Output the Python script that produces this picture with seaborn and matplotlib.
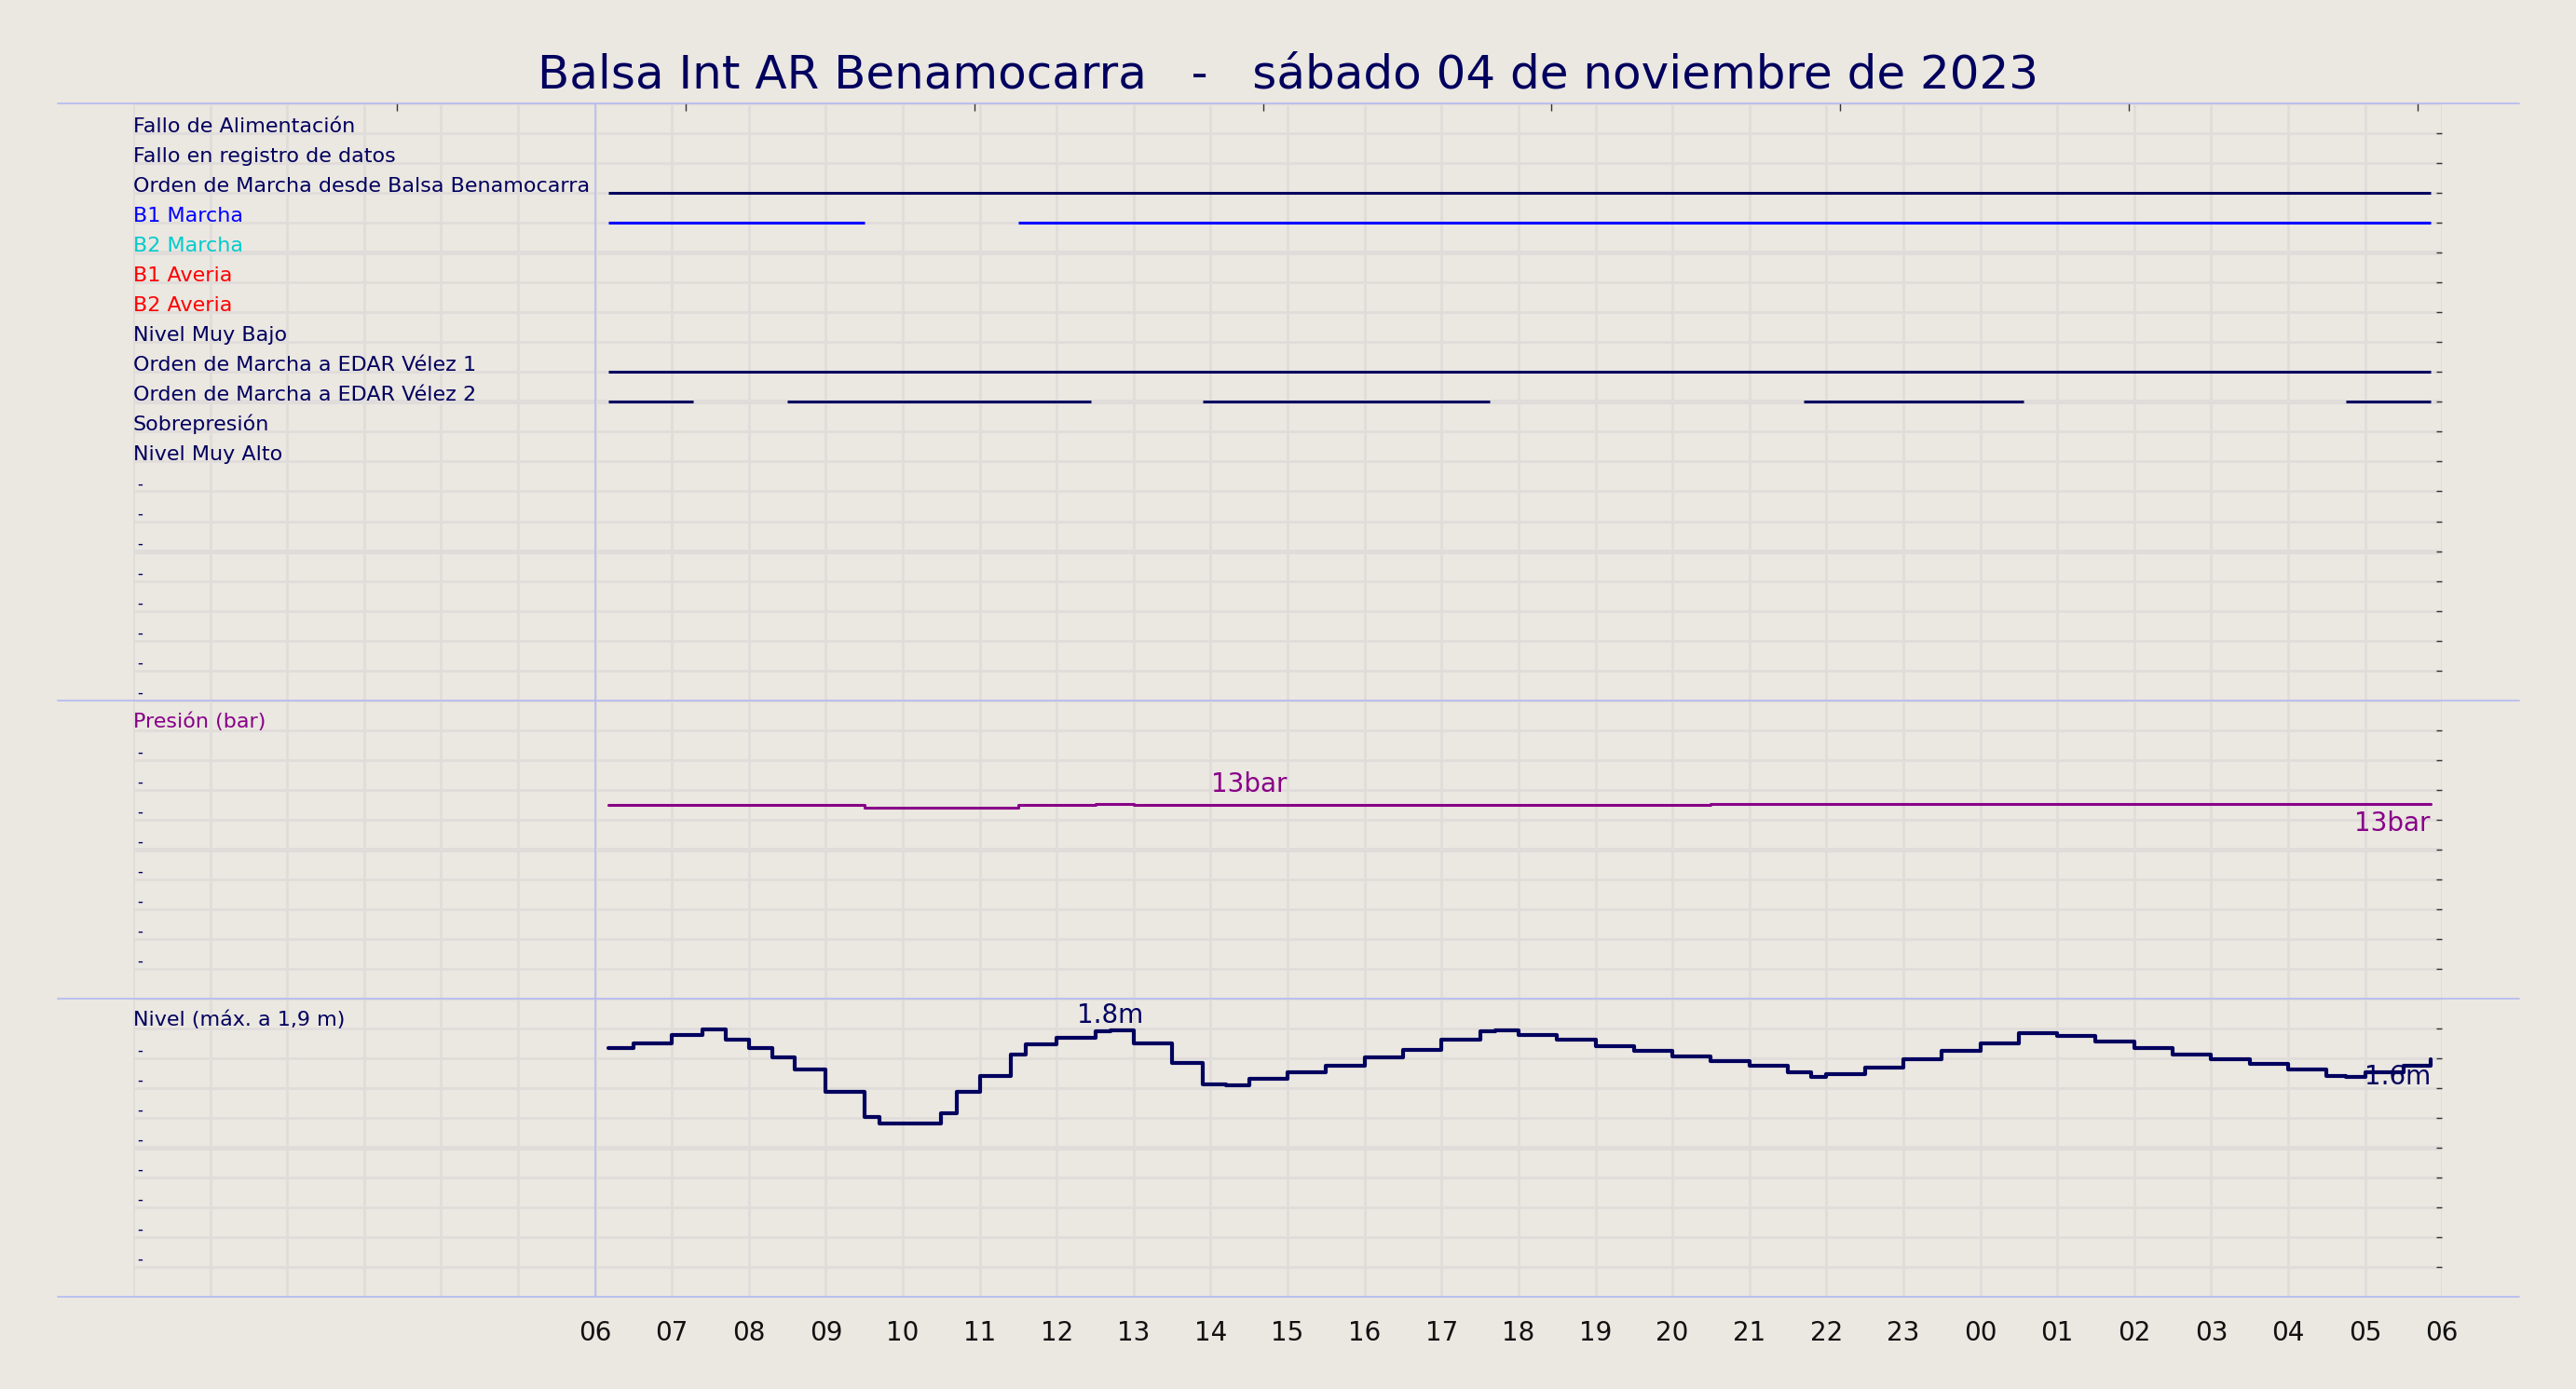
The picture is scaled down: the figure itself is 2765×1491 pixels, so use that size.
import matplotlib
matplotlib.use("Agg")
import matplotlib.pyplot as plt
import seaborn as sns
import numpy as np
from matplotlib.lines import Line2D

sns.set_theme(style="white")
plt.rcParams['font.family'] = ['DejaVu Sans']

BG = "#ebe7e1"
NAVY = "#00005e"
GRID = "#e0dcda"
SEP = "#b8bcf0"

title = "Balsa Int AR Benamocarra   -   sábado 04 de noviembre de 2023"
hour_ticks = list(range(6, 31))
hour_labels = ["%02d" % (h % 24) for h in hour_ticks]

status_labels = ["Fallo de Alimentación", "Fallo en registro de datos",
                 "Orden de Marcha desde Balsa Benamocarra", "B1 Marcha", "B2 Marcha",
                 "B1 Averia", "B2 Averia", "Nivel Muy Bajo", "Orden de Marcha a EDAR Vélez 1",
                 "Orden de Marcha a EDAR Vélez 2", "Sobrepresión", "Nivel Muy Alto"]
status_colors = [NAVY, NAVY, NAVY, "#0000ff", "#00cccc", "#ff0000", "#ff0000",
                 NAVY, NAVY, NAVY, NAVY, NAVY]
# active segments (start hour, end hour) per status row
status_segments = {
    2: [(6.17, 29.85)],
    3: [(6.17, 9.5), (11.5, 29.85)],
    8: [(6.17, 29.85)],
    9: [(6.17, 7.28), (8.5, 12.45), (13.9, 17.63), (21.7, 24.56), (28.75, 29.85)],
}

pres_t = [6.17, 7.0, 7.5, 8.0, 8.5, 9.0, 9.5, 10.0, 10.5, 11.0, 11.5, 12.0, 12.5, 13.0,
          14.0, 15.0, 16.0, 17.0, 18.0, 19.0, 20.0, 20.5, 21.0, 22.0, 23.0, 24.0, 24.5,
          25.0, 26.0, 27.0, 28.0, 29.0, 29.5, 29.85]
pres_v = [13.0, 13.0, 12.98, 13.0, 13.0, 13.0, 12.8, 12.8, 12.8, 12.8, 13.0, 13.0, 13.02,
          13.0, 13.0, 13.0, 13.0, 13.0, 13.0, 13.0, 13.0, 13.05, 13.05, 13.05, 13.05,
          13.05, 13.08, 13.05, 13.03, 13.03, 13.03, 13.05, 13.08, 13.08]

lvl_t = [6.17, 6.5, 7.0, 7.4, 7.7, 8.0, 8.3, 8.6, 9.0, 9.5, 9.7, 10.3, 10.5, 10.7, 11.0,
         11.4, 11.6, 12.0, 12.5, 12.7, 13.0, 13.5, 13.9, 14.2, 14.5, 15.0, 15.5, 16.0,
         16.5, 17.0, 17.5, 17.7, 18.0, 18.5, 19.0, 19.5, 20.0, 20.5, 21.0, 21.5, 21.8,
         22.0, 22.5, 23.0, 23.5, 24.0, 24.5, 25.0, 25.5, 26.0, 26.5, 27.0, 27.5, 28.0,
         28.5, 28.75, 29.0, 29.5, 29.85]
lvl_v = [1.687, 1.718, 1.770, 1.802, 1.739, 1.687, 1.624, 1.551, 1.405, 1.248, 1.207,
         1.207, 1.269, 1.405, 1.509, 1.645, 1.708, 1.749, 1.791, 1.800, 1.718, 1.593,
         1.457, 1.447, 1.488, 1.530, 1.572, 1.624, 1.676, 1.739, 1.791, 1.800, 1.770,
         1.739, 1.697, 1.666, 1.635, 1.603, 1.572, 1.530, 1.499, 1.520, 1.562, 1.614,
         1.666, 1.718, 1.781, 1.760, 1.729, 1.687, 1.645, 1.614, 1.582, 1.551, 1.509,
         1.499, 1.530, 1.572, 1.614]

fig = plt.figure(figsize=(27.65, 14.91), dpi=100, facecolor=BG)
L, R, T, B = 0.0517, 0.948, 0.9255, 0.0662
H = T - B
ax1 = fig.add_axes([L, B + H * 0.5, R - L, H * 0.5])
ax2 = fig.add_axes([L, B + H * 0.25, R - L, H * 0.25])
ax3 = fig.add_axes([L, B, R - L, H * 0.25])

def style(ax, lo, hi, nrows):
    ax.set_facecolor(BG)
    ax.set_xlim(0, 30)
    ax.set_ylim(lo, hi)
    step = (hi - lo) / nrows
    for i in range(nrows + 1):
        y = lo + i * step
        lw = 3.5 if (i % 5 == 0 and 0 < i < nrows) else 2
        ax.axhline(y, color=GRID, lw=lw, zorder=0)
    for h in range(0, 31):
        ax.axvline(h, color=GRID, lw=2, zorder=0)
    ax.axvline(6, color=SEP, lw=1.2, zorder=1)
    for s in ax.spines.values():
        s.set_visible(False)
    ax.set_yticks([lo + i * step for i in range(1, nrows)])
    ax.tick_params(axis='y', left=False, labelleft=False, right=True, direction='in',
                   length=4, width=1, color='#333333', labelright=False)
    ax.tick_params(axis='x', bottom=False, labelbottom=False)
    return step

style(ax1, 20, 0, 20)
style(ax2, 0, 20, 10)
style(ax3, 0.1, 2.0, 10)

# status panel
for i in range(20):
    if i < len(status_labels):
        ax1.text(0.0, i + 0.97, status_labels[i], color=status_colors[i], fontsize=16,
                 ha='left', va='baseline')
    else:
        ax1.text(0.05, i + 0.9, "-", color=NAVY, fontsize=12, ha='left', va='baseline')
for row, segs in status_segments.items():
    for a, b in segs:
        ax1.hlines(row + 1, a, b, color=status_colors[row], lw=2.2, zorder=3)
top_ticks = [3.43 + 3.75 * k for k in range(8)]
ax1.set_xticks(top_ticks)
ax1.set_xticklabels([""] * len(top_ticks))
ax1.tick_params(axis='x', top=True, bottom=False, direction='in', length=6, width=1,
                color='#333333', labelbottom=False, labeltop=False)

# pressure panel
ax2.text(0.0, 20 - 0.92 * 2, "Presión (bar)", color="#880088", fontsize=16, ha='left', va='baseline')
for i in range(1, 9):
    ax2.text(0.05, 20 - (i + 0.9) * 2, "-", color=NAVY, fontsize=12, ha='left', va='baseline')
sns.lineplot(x=pres_t, y=pres_v, ax=ax2, color="#880088", lw=2.2, drawstyle='steps-post')
ax2.text(14.5, 13.5, "13bar", color="#880088", fontsize=20, ha='center', va='bottom')
ax2.text(29.85, 12.6, "13bar", color="#880088", fontsize=20, ha='right', va='top')

# level panel
ax3.text(0.0, 2.0 - 0.92 * 0.19, "Nivel (máx. a 1,9 m)", color=NAVY, fontsize=16, ha='left', va='baseline')
for i in range(1, 9):
    ax3.text(0.05, 2.0 - (i + 0.9) * 0.19, "-", color=NAVY, fontsize=12, ha='left', va='baseline')
sns.lineplot(x=lvl_t, y=lvl_v, ax=ax3, color=NAVY, lw=3, drawstyle='steps-post')
ax3.text(12.7, 1.81, "1.8m", color=NAVY, fontsize=20, ha='center', va='bottom')
ax3.text(29.85, 1.585, "1.6m", color=NAVY, fontsize=20, ha='right', va='top')
ax3.set_xticks(hour_ticks)
ax3.set_xticklabels(hour_labels)
ax3.tick_params(axis='x', bottom=False, labelbottom=True, labelsize=20, labelcolor='#111111', pad=12)
for ax in (ax1, ax2, ax3):
    ax.set_xlabel("")
    ax.set_ylabel("")
    ax.set_xlim(0, 30)

# separator lines
for y in (T, B + H * 0.5, B + H * 0.25, B):
    fig.add_artist(Line2D([0.0223, 0.978], [y, y], transform=fig.transFigure, color=SEP, lw=1.3))

fig.text(0.5, 0.946, title, ha='center', va='center', fontsize=36, color=NAVY)
fig.savefig("out.png", dpi=100, facecolor=BG)
